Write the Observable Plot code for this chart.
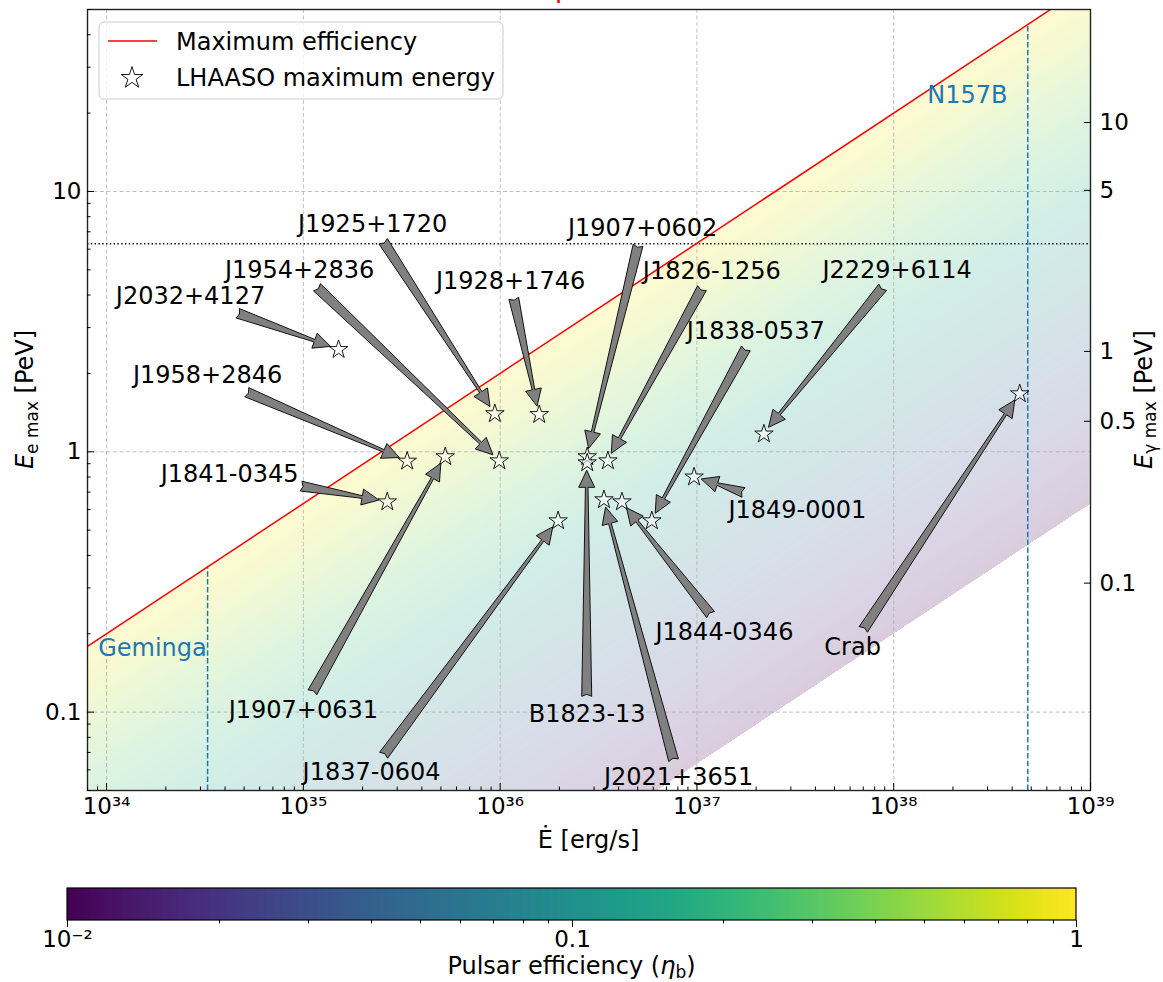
<!DOCTYPE html>
<html>
<head>
<meta charset="utf-8">
<script src="https://cdn.jsdelivr.net/npm/d3@7"></script>
<script src="https://cdn.jsdelivr.net/npm/@observablehq/plot@0.6"></script>
<style>
html, body { margin: 0; padding: 0; background: #fff; overflow: hidden; }
#wrap { position: relative; width: 1163px; height: 982px; overflow: hidden; font-family: "DejaVu Sans"; }
#title { position: absolute; top: -26px; left: 15px; color: red; font-size: 28px; line-height: 28px; white-space: nowrap; }
#wrap svg { display: block; }
</style>
</head>
<body>
<div id="wrap">
  <div id="chart"></div>
  <div id="title">Maximum electron limit, the available potential</div>
</div>
<script>
// ---------------- data ----------------
const xDomain = [8e33, 1e39];
const yDomain = [0.05, 50];
const effDomain = [0.01, 1];

const pulsarNames = ["J2032+4127", "J1958+2846", "J1907+0631", "J1954+2836", "J1925+1720", "J1928+1746",
  "J1841-0345", "J1907+0602", "B1823-13", "J1826-1256", "J1849-0001", "J1837-0604", "J2021+3651",
  "J1844-0346", "J1838-0537", "J2229+6114", "Crab"];
const pulsarEdot = [1.51e35, 3.37e35, 5.26e35, 9.9e35, 9.4e35, 1.58e36,
  2.67e35, 2.77e36, 2.77e36, 3.53e36, 9.67e36, 1.97e36, 3.37e36,
  4.16e36, 5.9e36, 2.19e37, 4.37e38];
const pulsarEmax = [2.47, 0.92, 0.957, 0.923, 1.40, 1.39,
  0.642, 0.957, 0.907, 0.923, 0.80, 0.543, 0.654,
  0.642, 0.543, 1.17, 1.67];
const labelEdot = [2.67e34, 3.26e34, 1.0e35, 9.57e34, 2.25e35, 1.13e36,
  4.22e34, 5.3e36, 2.77e36, 1.19e37, 3.24e37, 2.22e35, 8.07e36,
  1.38e37, 1.99e37, 1.04e38, 6.18e37];
const labelE = [3.94, 1.96, 0.102, 4.96, 7.45, 4.5,
  0.823, 7.19, 0.0985, 4.92, 0.598, 0.0585, 0.056,
  0.203, 2.89, 4.96, 0.178];

// maximum-efficiency line (end points)
const maxEffEdot = [8e33, 1e39];
const maxEffE = [0.179, 63.2];

// reference pulsars (vertical dashed lines)
const refNames = ["Geminga", "N157B"];
const refEdot = [3.26e34, 4.8e38];
const refTopE = [0.36, 44];
const refLabelEdot = [1.71e34, 2.37e38];
const refLabelE = [0.1766, 23.5];

// horizontal dotted line
const thresholdEe = [6.3];

// ticks
const xMajorTicks = [1e34, 1e35, 1e36, 1e37, 1e38, 1e39];
const xTickLabels = ["10³⁴", "10³⁵", "10³⁶", "10³⁷", "10³⁸", "10³⁹"];
const yMajorTicks = [0.1, 1, 10];
const yTickLabels = ["0.1", "1", "10"];
const gammaTickLabels = ["0.1", "0.5", "1", "5", "10"];
const gammaTickEe = [0.313, 1.31, 2.43, 10.1, 18.4];
const effTicks = [0.01, 0.1, 1];
const effTickLabels = ["10⁻²", "0.1", "1"];

// ---------------- helpers ----------------
const minorOf = (lo, hi) => {
  const out = [];
  for (let e = Math.floor(Math.log10(lo)) ; e <= Math.ceil(Math.log10(hi)); e++)
    for (let m = 2; m <= 9; m++) { const v = m * Math.pow(10, e); if (v >= lo * 0.999 && v <= hi * 1.001) out.push(+v.toPrecision(3)); }
  return out;
};
const xMinor = minorOf(xDomain[0], xDomain[1]);
const yMinor = minorOf(yDomain[0], yDomain[1]);
const effMinor = minorOf(effDomain[0], effDomain[1]);

const pale = eta => d3.interpolateRgb("white", d3.interpolateViridis((Math.log10(eta) - Math.log10(effDomain[0])) / (Math.log10(effDomain[1]) - Math.log10(effDomain[0]))))(0.2);

// shading bands: efficiency levels from 1 down to 0.01
const nBands = 160;
const effLevels = d3.range(nBands + 1).map(i => Math.pow(10, Math.log10(effDomain[1]) - i * (Math.log10(effDomain[1]) - Math.log10(effDomain[0])) / nBands));
const bandRows = effLevels.flatMap(eta => maxEffEdot.map((ed, j) => ({edot: ed, lo: effDomain[0] * maxEffE[j], hi: eta * maxEffE[j], eta})));

const pulsars = pulsarNames.map((name, i) => ({name, edot: pulsarEdot[i], e: pulsarEmax[i], lx: labelEdot[i], ly: labelE[i]}));
const refs = refNames.map((name, i) => ({name, edot: refEdot[i], top: refTopE[i], lx: refLabelEdot[i], ly: refLabelE[i]}));
const maxLine = maxEffEdot.map((ed, i) => ({edot: ed, e: maxEffE[i]}));

const starR = 5.8;
const FONT = "DejaVu Sans";

// arrows drawn through the plot's scales
function arrowMark(index, scales, values, dim) {
  const ctx = document.createElement("canvas").getContext("2d");
  ctx.font = `24px "${FONT}"`;
  const g = d3.create("svg:g");
  for (const p of pulsars) {
    const cx = scales.x(p.lx), cy = scales.y(p.ly);
    const sx = scales.x(p.edot), sy = scales.y(p.e);
    let dx = sx - cx, dy = sy - cy;
    const L = Math.hypot(dx, dy); dx /= L; dy /= L;
    const hw = ctx.measureText(p.name).width / 2 + 3, hh = 14 + 3;
    const t = Math.min(Math.abs(dx) > 1e-6 ? hw / Math.abs(dx) : Infinity, Math.abs(dy) > 1e-6 ? hh / Math.abs(dy) : Infinity);
    const tx = cx + dx * t, ty = cy + dy * t;
    const px = sx - dx * 8, py = sy - dy * 8;
    const nx = -dy, ny = dx;
    const tw = 10, nw = 2.6, hwid = 16, hl = 17, notch = 2;
    const bx = px - dx * hl, by = py - dy * hl;
    const pts = [
      [tx + nx * tw / 2, ty + ny * tw / 2],
      [bx + nx * nw / 2, by + ny * nw / 2],
      [bx + nx * hwid / 2, by + ny * hwid / 2],
      [px, py],
      [bx - nx * hwid / 2, by - ny * hwid / 2],
      [bx - nx * nw / 2, by - ny * nw / 2],
      [tx - nx * tw / 2, ty - ny * tw / 2],
      [tx + dx * notch, ty + dy * notch]
    ];
    g.append("path").attr("d", "M" + pts.map(q => q.join(",")).join("L") + "Z")
      .attr("fill", "#808080").attr("stroke", "black").attr("stroke-width", 0.9).attr("stroke-linejoin", "miter");
  }
  return g.node();
}

function legendMark(index, scales, values, dim) {
  const x0 = dim.marginLeft + 12, y0 = dim.marginTop + 13;
  const g = d3.create("svg:g").attr("font-family", FONT).attr("font-size", 24).attr("fill", "black").attr("text-anchor", "start");
  g.append("rect").attr("x", x0).attr("y", y0).attr("width", 404).attr("height", 77).attr("rx", 5)
    .attr("fill", "white").attr("fill-opacity", 0.8).attr("stroke", "#cccccc").attr("stroke-width", 1);
  g.append("line").attr("x1", x0 + 9).attr("x2", x0 + 58).attr("y1", y0 + 19).attr("y2", y0 + 19)
    .attr("stroke", "red").attr("stroke-width", 1.5);
  g.append("path").attr("d", d3.symbol(d3.symbolStar, Math.PI * 6.8 * 6.8)())
    .attr("transform", `translate(${x0 + 33},${y0 + 56})`)
    .attr("fill", "white").attr("stroke", "black").attr("stroke-width", 0.9);
  g.append("text").attr("x", x0 + 77).attr("y", y0 + 28).attr("text-anchor", "start").text("Maximum efficiency");
  g.append("text").attr("x", x0 + 77).attr("y", y0 + 64).attr("text-anchor", "start").text("LHAASO maximum energy");
  return g.node();
}

function axisLabelMark(index, scales, values, dim) {
  const g = d3.create("svg:g").attr("font-family", FONT).attr("font-size", 24).attr("fill", "black");
  const cy = (dim.marginTop + dim.height - dim.marginBottom) / 2;
  const cx = (dim.marginLeft + dim.width - dim.marginRight) / 2;
  const t1 = g.append("text").attr("text-anchor", "middle").attr("transform", `translate(33,${cy}) rotate(-90)`);
  t1.append("tspan").attr("font-style", "italic").text("E");
  t1.append("tspan").attr("font-size", 17).attr("dy", 5).text("e max");
  t1.append("tspan").attr("dy", -5).text(" [PeV]");
  const t2 = g.append("text").attr("text-anchor", "middle").attr("transform", `translate(${dim.width - 11},${cy}) rotate(-90)`);
  t2.append("tspan").attr("font-style", "italic").text("E");
  t2.append("tspan").attr("font-size", 17).attr("dy", 4).text("γ max");
  t2.append("tspan").attr("dy", -4).text(" [PeV]");
  g.append("text").attr("text-anchor", "middle").attr("x", cx).attr("y", dim.height - 22).text("Ė [erg/s]");
  return g.node();
}

const xFmt = d => xTickLabels[xMajorTicks.indexOf(d)] ?? "";
const yFmt = d => yTickLabels[yMajorTicks.indexOf(d)] ?? "";
const gFmt = d => gammaTickLabels[gammaTickEe.indexOf(d)] ?? "";

const chart = Plot.plot({
  width: 1163, height: 870,
  marginLeft: 87, marginRight: 73, marginTop: 9, marginBottom: 80,
  style: {fontFamily: FONT, fontSize: "23px", color: "black", background: "white"},
  x: {type: "log", domain: xDomain},
  y: {type: "log", domain: yDomain},
  color: {type: "identity"},
  marks: [
    Plot.areaY(bandRows, {x: "edot", y1: "lo", y2: "hi", z: "eta", fill: d => pale(d.eta), clip: true}),
    Plot.gridX({ticks: xMajorTicks.slice(0, 5), stroke: "#b0b0b0", strokeOpacity: 1, strokeWidth: 0.8, strokeDasharray: "4,2.5"}),
    Plot.gridY({ticks: yMajorTicks, stroke: "#b0b0b0", strokeOpacity: 1, strokeWidth: 0.8, strokeDasharray: "4,2.5"}),
    Plot.ruleY(thresholdEe, {stroke: "black", strokeWidth: 1.4, strokeDasharray: "1.4,2.4"}),
    Plot.ruleX(refs, {x: "edot", y1: yDomain[0], y2: "top", stroke: "#1f77b4", strokeWidth: 1.5, strokeDasharray: "5.5,2.4"}),
    Plot.line(maxLine, {x: "edot", y: "e", stroke: "red", strokeWidth: 1.5, clip: true}),
    Plot.dot(pulsars, {x: "edot", y: "e", symbol: "star", r: starR, fill: "white", fillOpacity: 0.55, stroke: "black", strokeWidth: 0.9}),
    arrowMark,
    Plot.text(pulsars, {x: "lx", y: "ly", text: "name", fontSize: 24, fill: "black"}),
    Plot.text(refs, {x: "lx", y: "ly", text: "name", fontSize: 24, fill: "#1f77b4"}),
    legendMark,
    Plot.frame({stroke: "#222", strokeWidth: 1.4}),
    // bottom axis
    Plot.axisX({ticks: xMajorTicks, anchor: "bottom", tickSize: 7, dy: -7, text: null, label: null}),
    Plot.axisX({ticks: xMinor, anchor: "bottom", tickSize: 3.5, dy: -3.5, text: null, label: null}),
    Plot.axisX({ticks: xMajorTicks, anchor: "bottom", tickSize: 0, tickPadding: 7, tickFormat: xFmt, label: null, fontSize: 23}),
    // left axis
    Plot.axisY({ticks: yMajorTicks, anchor: "left", tickSize: 7, dx: 7, text: null, label: null}),
    Plot.axisY({ticks: yMinor, anchor: "left", tickSize: 3.5, dx: 3.5, text: null, label: null}),
    Plot.axisY({ticks: yMajorTicks, anchor: "left", tickSize: 0, tickPadding: 6, tickFormat: yFmt, label: null, fontSize: 23}),
    // right axis (E_gamma)
    Plot.axisY({ticks: gammaTickEe, anchor: "right", tickSize: 7, dx: -7, text: null, label: null}),
    Plot.axisY({ticks: gammaTickEe, anchor: "right", tickSize: 0, tickPadding: 9, tickFormat: gFmt, label: null, fontSize: 23}),
    axisLabelMark
  ]
});
document.getElementById("chart").appendChild(chart);

// ---------------- colour bar ----------------
const cbAllTicks = [...effTicks, ...effMinor.filter(v => !effTicks.includes(v))];
const cb = Plot.legend({
  color: {type: "log", domain: effDomain, scheme: "viridis"},
  width: 1163, height: 112,
  marginLeft: 67, marginRight: 87, marginTop: 18, marginBottom: 62,
  ticks: cbAllTicks,
  tickFormat: d => { const k = effTicks.indexOf(d); return k >= 0 ? effTickLabels[k] : ""; },
  tickSize: 7,
  style: {fontFamily: FONT, fontSize: "23px", color: "black", background: "white"}
});
const cbSel = d3.select(cb);
cbSel.selectAll(".tick line").attr("y1", 0).attr("y2", d => effTicks.includes(d) ? 7 : 3.5).attr("stroke", "black");
cbSel.selectAll(".tick text").attr("y", 11).attr("fill", "black");
cbSel.append("rect").attr("x", 67).attr("y", 18).attr("width", 1163 - 67 - 87).attr("height", 32)
  .attr("fill", "none").attr("stroke", "black").attr("stroke-width", 1.2);
const cbLab = cbSel.append("text").attr("x", (67 + 1163 - 87) / 2).attr("y", 104).attr("text-anchor", "middle")
  .attr("font-size", 24).attr("font-family", FONT).attr("fill", "black");
cbLab.append("tspan").text("Pulsar efficiency (");
cbLab.append("tspan").attr("font-style", "italic").text("η");
cbLab.append("tspan").attr("font-size", 17).attr("dy", 4).text("b");
cbLab.append("tspan").attr("dy", -4).text(")");
document.getElementById("chart").appendChild(cb);
</script>
</body>
</html>
